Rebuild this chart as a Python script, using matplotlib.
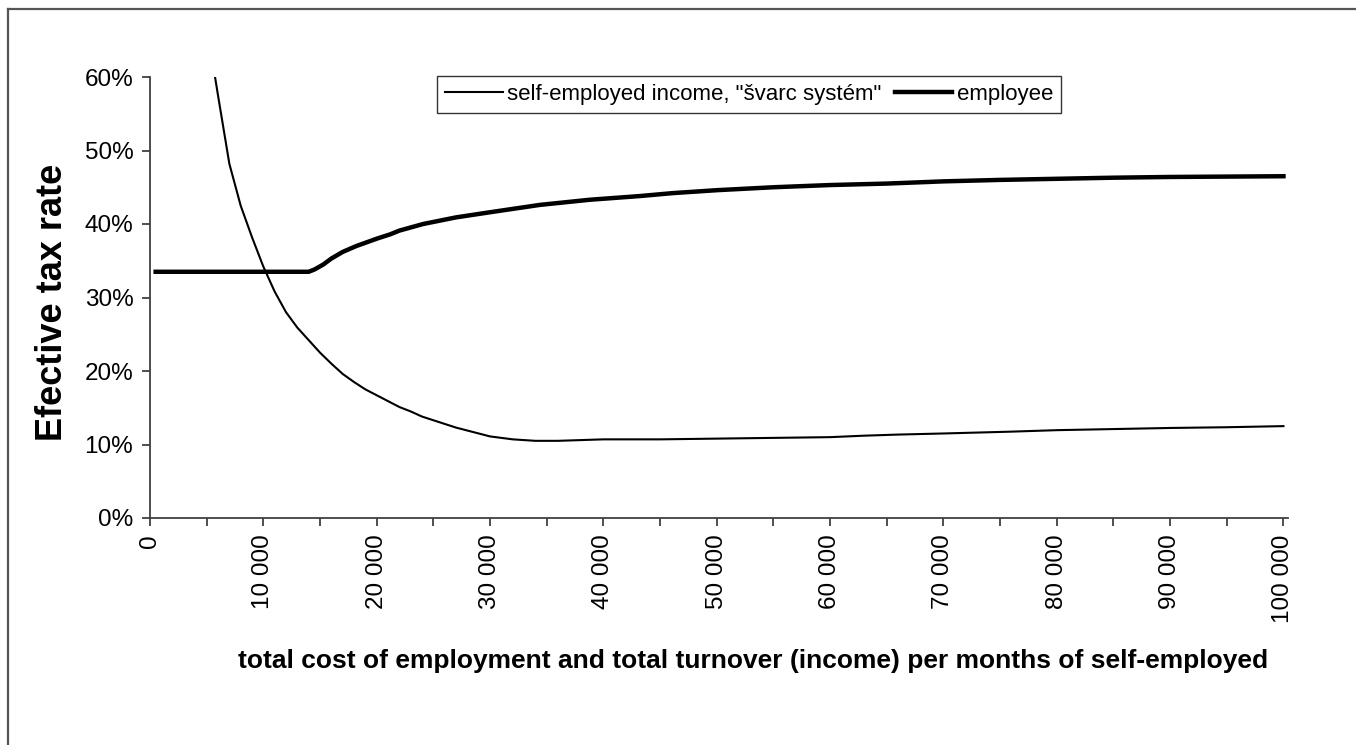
import numpy as np
import matplotlib
matplotlib.use("Agg")
import matplotlib.pyplot as plt
from matplotlib.ticker import FuncFormatter, MultipleLocator, PercentFormatter
from matplotlib.lines import Line2D

plt.rcParams['font.family'] = ['Liberation Sans', 'DejaVu Sans']

# total monthly cost / turnover (CZK)
self_x = [5000, 6000, 7000, 8000, 9000, 10000, 11000, 12000, 13000, 14000,
          15000, 16000, 17000, 18000, 19000, 20000, 21000, 22000, 23000, 24000,
          25000, 26000, 27000, 28000, 29000, 30000, 31000, 32000, 33000, 34000,
          36000, 38000, 40000, 45000, 50000, 55000, 60000, 63000, 66000, 70000,
          76000, 80000, 85000, 90000, 95000, 100000]
# effective tax rate of self-employed, "svarc system" (%)
self_rate = [67.0, 57.5, 48.2, 42.5, 38.2, 34.2, 30.8, 28.0, 25.9, 24.2,
             22.5, 21.0, 19.6, 18.5, 17.5, 16.7, 15.9, 15.1, 14.5, 13.8,
             13.3, 12.8, 12.3, 11.9, 11.5, 11.1, 10.9, 10.7, 10.6, 10.5,
             10.5, 10.6, 10.7, 10.7, 10.8, 10.9, 11.0, 11.2, 11.35, 11.5,
             11.75, 11.95, 12.1, 12.25, 12.35, 12.5]

emp_x = [500, 5000, 10000, 14000, 14500, 15300, 16000, 17000, 18200, 20000,
         21200, 22000, 24100, 27000, 30000, 34400, 38800, 43200, 46100, 50000,
         55000, 60000, 65000, 70000, 75000, 80000, 85000, 90000, 95000, 100000]
# effective tax rate of employee (%)
emp_rate = [33.5, 33.5, 33.5, 33.5, 33.8, 34.5, 35.3, 36.2, 37.0, 38.0,
            38.6, 39.1, 40.0, 40.9, 41.6, 42.6, 43.3, 43.8, 44.2, 44.6,
            45.0, 45.3, 45.5, 45.8, 46.0, 46.15, 46.3, 46.4, 46.45, 46.5]

fig = plt.figure(figsize=(13.56, 7.45), dpi=100)
ax = fig.add_axes([150 / 1356, 1 - 518 / 745, 1138 / 1356, 441 / 745])

ax.plot(self_x, self_rate, color='black', linewidth=1.5,
        label='self-employed income, "švarc systém"')
ax.plot(emp_x, emp_rate, color='black', linewidth=3.2, label='employee')

ax.set_xlim(0, 100400)
ax.set_ylim(0, 60)

ax.spines['top'].set_visible(False)
ax.spines['right'].set_visible(False)
for s in ('left', 'bottom'):
    ax.spines[s].set_color('#404040')
    ax.spines[s].set_linewidth(1.3)

ax.yaxis.set_major_locator(MultipleLocator(10))
ax.yaxis.set_major_formatter(PercentFormatter(xmax=100, decimals=0))
ax.xaxis.set_major_locator(MultipleLocator(10000))
ax.xaxis.set_minor_locator(MultipleLocator(5000))
ax.xaxis.set_major_formatter(
    FuncFormatter(lambda v, p: f"{int(v):,}".replace(",", " ")))

ax.tick_params(axis='both', which='both', direction='out', length=6,
               width=1.3, color='#404040')
ax.tick_params(axis='y', labelsize=17.5, pad=6)
ax.tick_params(axis='x', labelsize=17.5, pad=6, labelrotation=90)

ax.set_ylabel('Efective tax rate', fontsize=26, fontweight='bold')
ax.yaxis.set_label_coords(-0.086, 0.49)
ax.yaxis.label.set_va('center')

ax.set_xlabel('total cost of employment and total turnover (income) per months of self-employed',
              fontsize=19, fontweight='bold')
ax.xaxis.set_label_coords(0.53, -0.324)
ax.xaxis.label.set_va('center')

leg = ax.legend(loc='upper left', bbox_to_anchor=(437 / 1356, 1 - 76 / 745),
                bbox_transform=fig.transFigure, ncol=2, fontsize=16,
                frameon=True, fancybox=False, handlelength=2.6,
                handletextpad=0.2, columnspacing=0.6, borderpad=0.35,
                borderaxespad=0)
leg.get_frame().set_edgecolor('black')
leg.get_frame().set_linewidth(1.0)

# outer chart border (left and top edges visible)
fig.add_artist(Line2D([8 / 1356, 8 / 1356], [0, 1 - 9 / 745],
                      transform=fig.transFigure, color='#555555', linewidth=1.6))
fig.add_artist(Line2D([8 / 1356, 1], [1 - 9 / 745, 1 - 9 / 745],
                      transform=fig.transFigure, color='#555555', linewidth=1.6))

fig.savefig('out.png', dpi=100)
